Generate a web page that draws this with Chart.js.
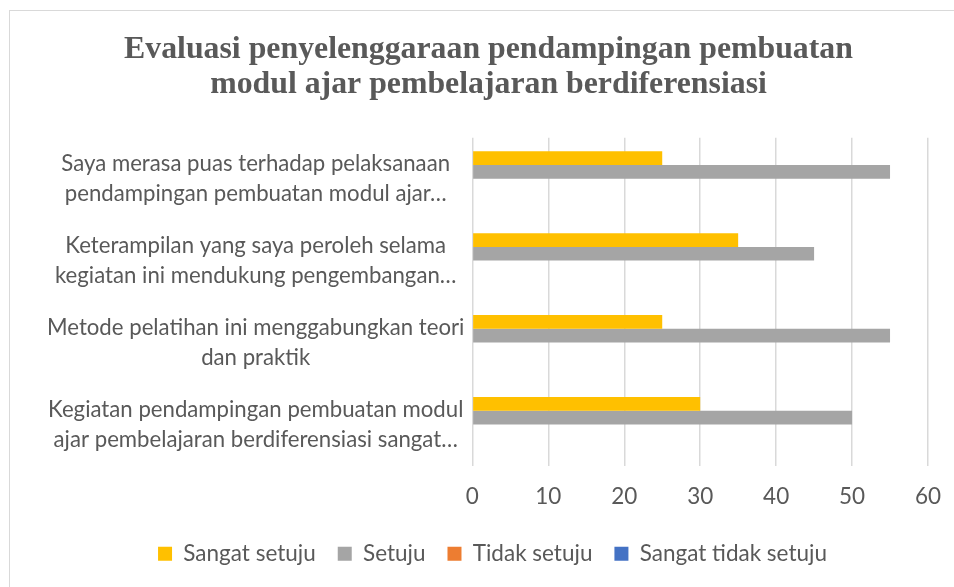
<!DOCTYPE html>
<html>
<head>
<meta charset="utf-8">
<script src="https://cdn.jsdelivr.net/npm/chart.js@4/dist/chart.umd.min.js"></script>
<style>
    html, body {
        margin: 0;
        padding: 0;
        background: #ffffff;
        overflow: hidden;
        width: 954px;
        height: 587px;
    }
    #chartBox {
        position: absolute;
        left: 9px;
        top: 10px;
        width: 960px;
        height: 600px;
        border: 1.5px solid #d9d9d9;
        box-sizing: border-box;
        background: #ffffff;
    }
</style>
</head>
<body>
<div id="chartBox">
    <canvas id="evaluasiChart"></canvas>
</div>
<script>
// categories, top to bottom as shown in the picture
const categories = [
    ['Saya merasa puas terhadap pelaksanaan', 'pendampingan pembuatan modul ajar…'],
    ['Keterampilan yang saya peroleh selama', 'kegiatan ini mendukung pengembangan…'],
    ['Metode pelatihan ini menggabungkan teori', 'dan praktik'],
    ['Kegiatan pendampingan pembuatan modul', 'ajar pembelajaran berdiferensiasi sangat…']
];

const seriesNames = ['Sangat setuju', 'Setuju', 'Tidak setuju', 'Sangat tidak setuju'];
const sangatSetuju = [25, 35, 25, 30];
const setuju = [55, 45, 55, 50];
const tidakSetuju = [0, 0, 0, 0];
const sangatTidakSetuju = [0, 0, 0, 0];
const xTicks = [0, 10, 20, 30, 40, 50, 60];

const seriesColors = ['#FFC000', '#A5A5A5', '#ED7D31', '#4472C4'];
const textColor = '#595959';
const labelFont = 'Lato, "Open Sans", sans-serif';

// title and legend are centred on the whole chart box, not on the padded area
const recentreBoxes = {
    id: 'recentreBoxes',
    afterLayout(chart) {
        if (chart.titleBlock) {
            chart.titleBlock.left += 5;
            chart.titleBlock.right += 5;
        }
        if (chart.legend) {
            chart.legend.left += 9;
            chart.legend.right += 9;
        }
    }
};

document.addEventListener('DOMContentLoaded', function() {
    const seriesValues = [sangatSetuju, setuju, tidakSetuju, sangatTidakSetuju];
    const datasets = seriesNames.map((name, i) => ({
        label: name,
        data: seriesValues[i],
        backgroundColor: seriesColors[i],
        borderWidth: 0,
        barPercentage: 1.0,
        categoryPercentage: 0.67
    }));

    const ctx = document.getElementById('evaluasiChart').getContext('2d');
    new Chart(ctx, {
        type: 'bar',
        data: {
            labels: categories,
            datasets: datasets
        },
        plugins: [recentreBoxes],
        options: {
            indexAxis: 'y',
            responsive: true,
            maintainAspectRatio: false,
            animation: false,
            layout: {
                padding: { top: 0, right: 40, bottom: 34, left: 29 }
            },
            plugins: {
                title: {
                    display: true,
                    text: ['Evaluasi penyelenggaraan pendampingan pembuatan', 'modul ajar pembelajaran berdiferensiasi'],
                    color: textColor,
                    font: { family: '"Liberation Serif", "Times New Roman", serif', size: 31.8, weight: 'bold', lineHeight: 1.08 },
                    padding: { top: 22, bottom: 36 }
                },
                legend: {
                    position: 'bottom',
                    labels: {
                        color: textColor,
                        boxWidth: 14,
                        boxHeight: 14,
                        padding: 22,
                        font: { family: labelFont, size: 22.5 }
                    }
                },
                tooltip: { enabled: false }
            },
            scales: {
                x: {
                    min: 0,
                    max: 60,
                    afterBuildTicks: axis => {
                        axis.ticks = xTicks.map(v => ({ value: v }));
                    },
                    // tighten the gap between the tick labels and the legend
                    afterFit: axis => {
                        axis.height = axis.height - 8;
                    },
                    grid: {
                        color: '#d9d9d9',
                        lineWidth: 1.5,
                        drawTicks: false
                    },
                    border: { display: false },
                    ticks: {
                        color: textColor,
                        padding: 18,
                        font: { family: labelFont, size: 22.5 }
                    }
                },
                y: {
                    grid: { display: false, drawTicks: false },
                    border: { display: false },
                    ticks: {
                        color: textColor,
                        crossAlign: 'center',
                        padding: 8,
                        autoSkip: false,
                        font: { family: labelFont, size: 22.2, lineHeight: 1.35 }
                    }
                }
            }
        }
    });
});
</script>
</body>
</html>
